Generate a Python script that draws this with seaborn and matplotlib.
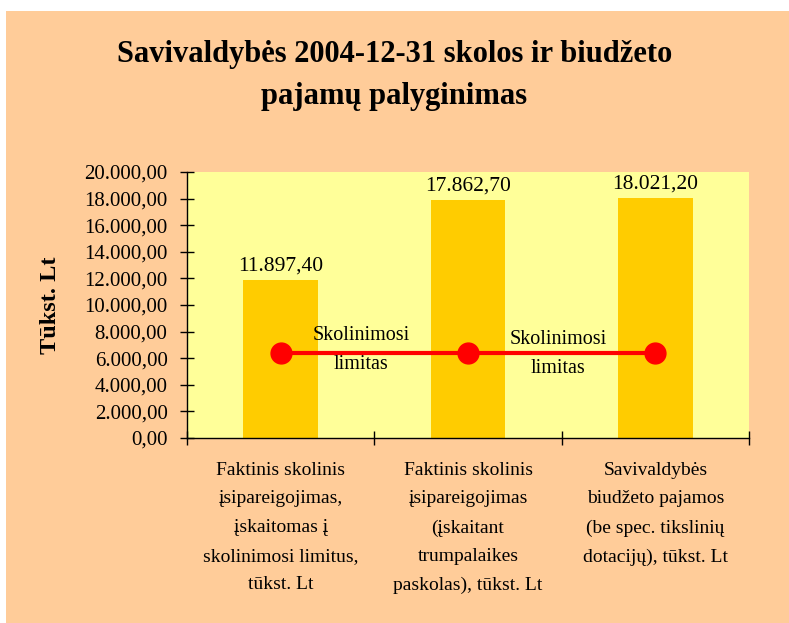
import matplotlib
matplotlib.use("Agg")
import matplotlib.pyplot as plt
import seaborn as sns
import pandas as pd
from matplotlib.patches import Rectangle
from matplotlib.ticker import FuncFormatter, FixedLocator

# --- Duomenys ---
kategorijos = [
    "Faktinis skolinis\nįsipareigojimas,\nįskaitomas į\nskolinimosi limitus,\ntūkst. Lt",
    "Faktinis skolinis\nįsipareigojimas\n(įskaitant\ntrumpalaikes\npaskolas), tūkst. Lt",
    "Savivaldybės\nbiudžeto pajamos\n(be spec. tikslinių\ndotacijų), tūkst. Lt",
]
reiksmes = [11897.40, 17862.70, 18021.20]
limitas = [6400.0, 6400.0, 6400.0]
limito_zymos = ["Skolinimosi\nlimitas", "Skolinimosi\nlimitas"]


def lt_format(v, pos=None):
    s = f"{v:,.2f}"
    return s.replace(",", " ").replace(".", ",").replace(" ", ".")


sns.set_style("white")
plt.rcParams["font.family"] = ["Liberation Serif", "DejaVu Serif"]
plt.rcParams["text.color"] = "black"
plt.rcParams["axes.labelcolor"] = "black"
plt.rcParams["xtick.color"] = "black"
plt.rcParams["ytick.color"] = "black"

fig = plt.figure(figsize=(7.89, 6.23), dpi=100)
fig.patch.set_facecolor("white")
# oranzinis fonas
fig.add_artist(Rectangle((6 / 789, 0), 1 - 6 / 789, 1 - 11 / 623,
                         transform=fig.transFigure, facecolor="#FFCC99",
                         edgecolor="none", zorder=-10))

ax = fig.add_axes([187 / 789, 1 - 438 / 623, 562 / 789, 266 / 623])
ax.set_facecolor("#FFFF99")

df = pd.DataFrame({"kategorija": kategorijos, "reiksme": reiksmes})
sns.barplot(data=df, x="kategorija", y="reiksme", color="#FFCC00",
            saturation=1, width=0.4, ax=ax, zorder=2,
            edgecolor="none", linewidth=0)

# skolinimosi limito linija
ax.plot(range(len(limitas)), limitas, color="#FF0000", lw=3,
        marker="o", markersize=15, zorder=4)

for i, v in enumerate(reiksmes):
    ax.text(i, v + 350, lt_format(v), ha="center", va="bottom", fontsize=15.5)

zymu_poslinkis = [0.43, 0.48]
for i, zyma in enumerate(limito_zymos):
    ax.text(i + zymu_poslinkis[i], limitas[i] + 220 - 300 * i, zyma,
            ha="center", va="center", fontsize=14.5, linespacing=1.7, zorder=5)

ax.set_xlim(-0.5, 2.5)
ax.set_ylim(0, 20000)
ax.set_yticks(range(0, 20001, 2000))
ax.yaxis.set_major_formatter(FuncFormatter(lt_format))
ax.tick_params(axis="y", which="major", direction="inout", length=10,
               width=1, labelsize=15, left=True, pad=9)
ax.set_xticks(range(len(kategorijos)), kategorijos, linespacing=1.9)
ax.tick_params(axis="x", which="major", length=0, labelsize=14, pad=17)
ax.xaxis.set_minor_locator(FixedLocator([-0.5, 0.5, 1.5, 2.5]))
ax.tick_params(axis="x", which="minor", direction="inout", length=10,
               width=1, bottom=True)

ax.set_xlabel("")
ax.set_ylabel("Tūkst. Lt", fontsize=17.5, fontweight="bold", labelpad=17)
for s in ["top", "right"]:
    ax.spines[s].set_visible(False)
for s in ["left", "bottom"]:
    ax.spines[s].set_color("black")
    ax.spines[s].set_linewidth(1)

fig.text(0.5, 1 - 40 / 623,
         "Savivaldybės 2004-12-31 skolos ir biudžeto\npajamų palyginimas",
         ha="center", va="top", fontsize=22, fontweight="bold",
         linespacing=1.6)

fig.savefig("out.png", dpi=100, facecolor=fig.get_facecolor())
